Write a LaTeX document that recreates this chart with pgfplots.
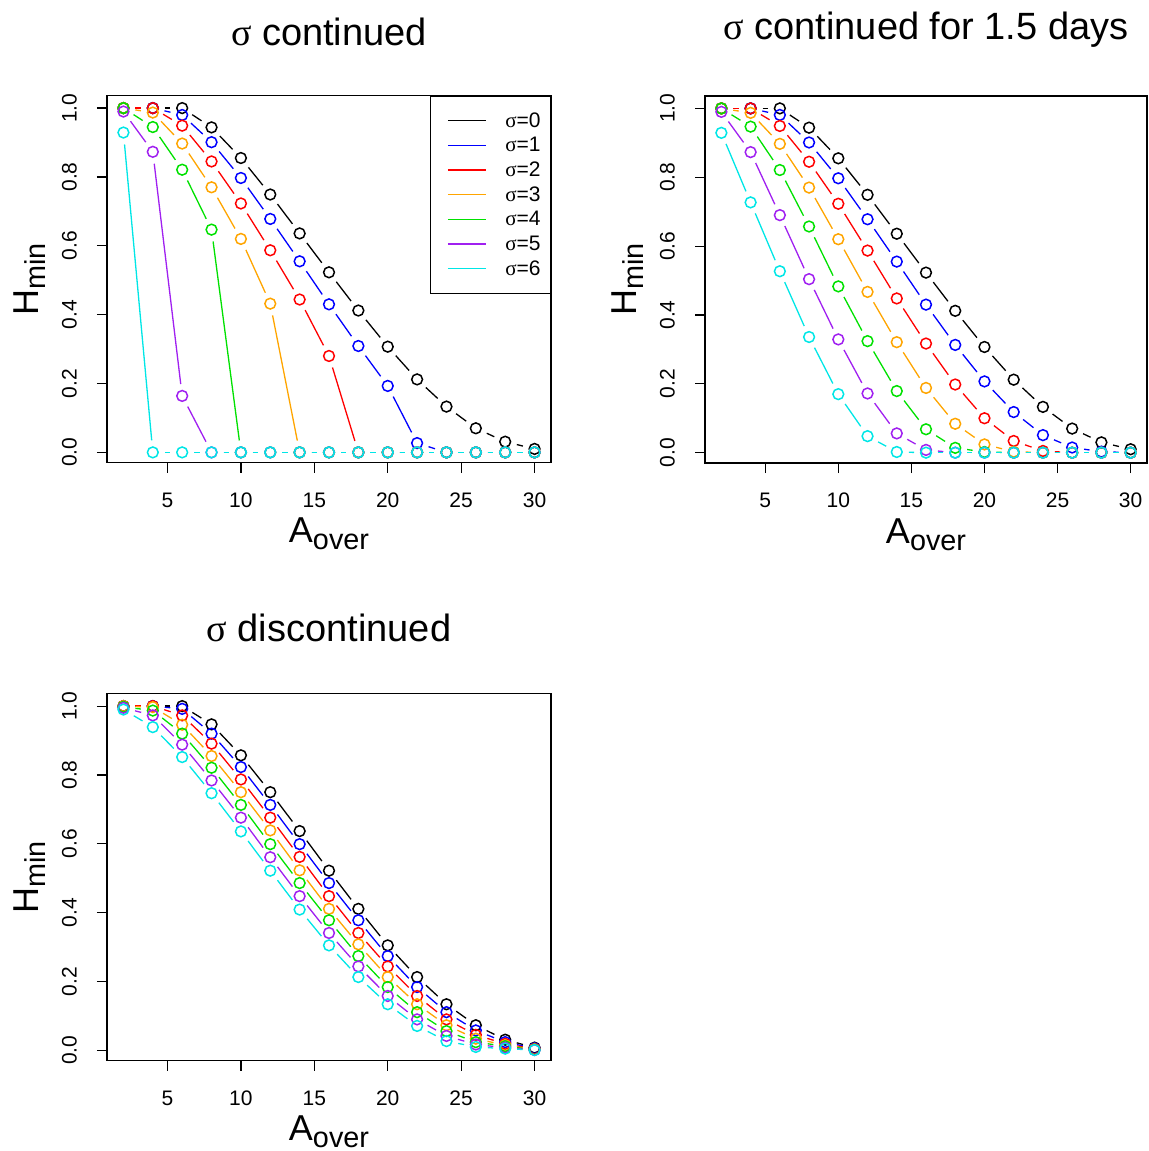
\documentclass[border=0pt]{standalone}
\usepackage{fontspec}
\setmainfont{Liberation Sans}
\newfontfamily\symf{Liberation Serif}
\usepackage{pgfplots}
\usepackage{pgfplotstable}
\pgfplotsset{compat=1.18}

\definecolor{c0}{RGB}{0,0,0}
\definecolor{c1}{RGB}{0,0,255}
\definecolor{c2}{RGB}{255,0,0}
\definecolor{c3}{RGB}{255,165,0}
\definecolor{c4}{RGB}{0,225,0}
\definecolor{c5}{RGB}{160,32,240}
\definecolor{c6}{RGB}{0,230,230}

\newcommand{\sig}{{\symf σ}}
\newcommand{\sub}[1]{\raisebox{-3.5pt}{\fontsize{14.4}{16}\selectfont #1}}

% sigma continued
\pgfplotstableread{
x  s0    s1    s2    s3    s4    s5    s6
2  1.000 1.000 1.000 1.000 1.000 0.990 0.929
4  1.000 1.000 1.000 0.987 0.945 0.873 0.000
6  1.000 0.980 0.949 0.897 0.821 0.164 0.000
8  0.944 0.901 0.845 0.770 0.647 0.000 0.000
10 0.855 0.797 0.723 0.620 0.000 0.000 0.000
12 0.749 0.678 0.587 0.432 0.000 0.000 0.000
14 0.636 0.555 0.444 0.000 0.000 0.000 0.000
16 0.523 0.430 0.280 0.000 0.000 0.000 0.000
18 0.412 0.309 0.000 0.000 0.000 0.000 0.000
20 0.307 0.193 0.000 0.000 0.000 0.000 0.000
22 0.212 0.027 0.000 0.000 0.000 0.000 0.000
24 0.133 0.000 0.000 0.000 0.000 0.000 0.000
26 0.070 0.000 0.000 0.000 0.000 0.000 0.000
28 0.031 0.000 0.000 0.000 0.000 0.000 0.000
30 0.010 0.000 0.000 0.000 0.000 0.000 0.000
}\tA

% sigma continued for 1.5 days
\pgfplotstableread{
x  s0    s1    s2    s3    s4    s5    s6
2  1.000 1.000 1.000 1.000 1.000 0.990 0.929
4  1.000 1.000 1.000 0.987 0.947 0.873 0.727
6  1.000 0.981 0.949 0.897 0.821 0.690 0.527
8  0.944 0.901 0.845 0.770 0.657 0.504 0.336
10 0.855 0.797 0.723 0.620 0.483 0.329 0.170
12 0.749 0.678 0.587 0.467 0.324 0.172 0.048
14 0.636 0.555 0.448 0.321 0.179 0.056 0.002
16 0.523 0.430 0.317 0.188 0.068 0.008 0.000
18 0.412 0.313 0.198 0.084 0.014 0.000 0.000
20 0.307 0.207 0.100 0.024 0.002 0.000 0.000
22 0.212 0.118 0.034 0.003 0.000 0.000 0.000
24 0.133 0.051 0.005 0.000 0.000 0.000 0.000
26 0.070 0.015 0.000 0.000 0.000 0.000 0.000
28 0.030 0.003 0.000 0.000 0.000 0.000 0.000
30 0.010 0.000 0.000 0.000 0.000 0.000 0.000
}\tB

% sigma discontinued
\pgfplotstableread{
x  s0    s1    s2    s3    s4    s5    s6
2  1.000 1.000 1.000 1.000 0.998 0.995 0.990
4  1.000 1.000 1.000 0.997 0.987 0.973 0.939
6  1.000 0.992 0.973 0.946 0.920 0.888 0.852
8  0.947 0.920 0.891 0.855 0.821 0.784 0.747
10 0.857 0.823 0.787 0.750 0.713 0.676 0.636
12 0.750 0.713 0.676 0.639 0.599 0.561 0.522
14 0.637 0.599 0.562 0.523 0.486 0.448 0.409
16 0.522 0.486 0.448 0.411 0.378 0.341 0.305
18 0.411 0.378 0.341 0.308 0.274 0.244 0.213
20 0.305 0.274 0.244 0.213 0.184 0.158 0.134
22 0.213 0.184 0.158 0.134 0.111 0.090 0.071
24 0.134 0.111 0.090 0.073 0.056 0.042 0.027
26 0.073 0.058 0.045 0.034 0.024 0.017 0.010
28 0.031 0.024 0.019 0.015 0.012 0.008 0.005
30 0.008 0.006 0.004 0.003 0.002 0.001 0.001
}\tC

% R type="b": each segment drawn on its own, shortened at both ends
\newcommand{\series}[3]{%
  \pgfplotsinvokeforeach{2:4,4:6,6:8,8:10,10:12,12:14,14:16,16:18,18:20,20:22,22:24,24:26,26:28,28:30}{%
    \addplot[#3, line width=0.65pt, forget plot, shorten <=6pt, shorten >=6pt,
      restrict x to domain=##1] table[x=x, y=#2] {#1};}%
  \addplot[#3, only marks, mark=o, mark size=2.7pt,
    mark options={line width=0.75pt, solid}, forget plot] table[x=x, y=#2] {#1};
}
\newcommand{\allseries}[1]{%
  \series{#1}{s0}{c0}\series{#1}{s1}{c1}\series{#1}{s2}{c2}\series{#1}{s3}{c3}%
  \series{#1}{s4}{c4}\series{#1}{s5}{c5}\series{#1}{s6}{c6}}

\pgfplotsset{rstyle/.style={
  scale only axis, width=222pt, height=183.5pt,
  xmin=0.88, xmax=31.12, ymin=-0.03, ymax=1.036,
  xtick={5,10,15,20,25,30}, ytick={0,0.2,0.4,0.6,0.8,1},
  tick align=outside, major tick length=5pt,
  xtick pos=left, ytick pos=left,
  axis line style={line width=0.6pt},
  every tick/.style={black, line width=0.6pt},
  /pgf/number format/assume math mode=true,
  ticklabel style={font=\fontsize{10.5}{12}\selectfont},
  xticklabel style={anchor=north, inner sep=0pt, text height=7.5pt, text depth=0pt},
  xticklabel shift=9.5pt,
  yticklabel style={rotate=90, anchor=south, inner sep=0pt, text depth=0pt,
    /pgf/number format/.cd, fixed, fixed zerofill, precision=1},
  yticklabel shift=10pt,
  title style={at={(axis description cs:0.5,1.1046)}, anchor=base, yshift=0pt,
    font=\fontsize{19}{21}\selectfont},
  xlabel style={at={(axis description cs:0.5,-0.2180)}, anchor=base,
    font=\fontsize{18}{20}\selectfont},
  ylabel style={at={(axis description cs:-0.1554,0.5)}, anchor=base,
    font=\fontsize{18}{20}\selectfont},
  xlabel={A\sub{over}}, ylabel={H\sub{min}},
}}

\begin{document}
\begin{tikzpicture}
\begin{axis}[rstyle, at={(53.5pt,-231.35pt)}, anchor=south west,
  title={\sig{} continued},
  legend style={at={(axis description cs:1,1)}, anchor=north east, draw=black,
    line width=0.6pt, fill=white, inner xsep=8.5pt, inner ysep=7.4pt,
    row sep=2.85pt, font=\fontsize{10.5}{12}\selectfont,
    nodes={inner sep=0pt, text height=8pt, text depth=1.5pt, text width=14pt, align=left},
    /tikz/every odd column/.append style={column sep=9.5pt}},
  legend cell align=left,
  legend image code/.code={\draw[#1, line width=0.65pt] (0pt,0pt) -- (19pt,0pt);}]
\addlegendimage{c0}\addlegendentry{\sig=0}
\addlegendimage{c1}\addlegendentry{\sig=1}
\addlegendimage{c2}\addlegendentry{\sig=2}
\addlegendimage{c3}\addlegendentry{\sig=3}
\addlegendimage{c4}\addlegendentry{\sig=4}
\addlegendimage{c5}\addlegendentry{\sig=5}
\addlegendimage{c6}\addlegendentry{\sig=6}
\allseries{\tA}
\end{axis}

\begin{axis}[rstyle, width=221pt, at={(352.5pt,-231.5pt)}, anchor=south west,
  title style={at={(axis description cs:0.5,1.122)}},
  title={\sig{} continued for 1.5 days}]
\allseries{\tB}
\end{axis}

\begin{axis}[rstyle, at={(53.5pt,-530.35pt)}, anchor=south west,
  title style={at={(axis description cs:0.5,1.1106)}},
  title={\sig{} discontinued}]
\allseries{\tC}
\end{axis}

\pgfresetboundingbox
\path[use as bounding box] (0pt,0pt) rectangle (574pt,-575.5pt);
\end{tikzpicture}
\end{document}
